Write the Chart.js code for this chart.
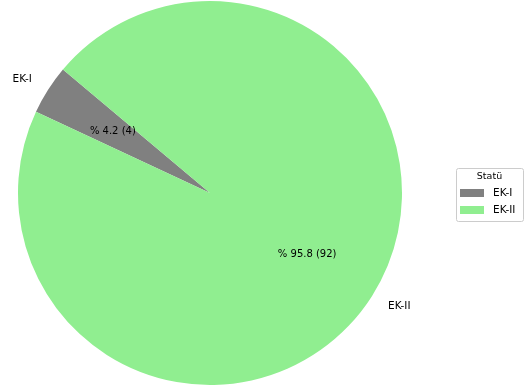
<!DOCTYPE html>
<html>
<head>
<meta charset="utf-8">
<script src="https://cdn.jsdelivr.net/npm/chart.js@4"></script>
<style>
html,body{margin:0;padding:0;background:#fff;}
#wrap{position:relative;width:528px;height:392px;}
</style>
</head>
<body>
<div id="wrap"><canvas id="c" width="528" height="392"></canvas></div>
<script>
const categories = ["EK-I", "EK-II"];
const counts = [4, 92];
const colors = ["#808080", "#90ee90"];
const legendTitle = "Statü";

const total = counts.reduce((a, b) => a + b, 0);
const FONT = "'DejaVu Sans', sans-serif";

const labelPlugin = {
  id: 'pieLabels',
  afterDatasetsDraw(chart) {
    const ctx = chart.ctx;
    const meta = chart.getDatasetMeta(0);
    ctx.save();
    meta.data.forEach((arc, i) => {
      const mid = (arc.startAngle + arc.endAngle) / 2;
      const r = arc.outerRadius;
      const cx = Math.cos(mid), cy = Math.sin(mid);
      const pct = (counts[i] / total * 100).toFixed(1);
      ctx.fillStyle = '#000';
      ctx.font = '10px ' + FONT;
      ctx.textAlign = 'center';
      ctx.textBaseline = 'middle';
      ctx.fillText('% ' + pct + ' (' + counts[i] + ')', arc.x + cx * r * 0.6, arc.y + cy * r * 0.6);
      ctx.font = '10.5px ' + FONT;
      ctx.textAlign = cx > 0 ? 'left' : 'right';
      ctx.fillText(categories[i], arc.x + cx * r * 1.1, arc.y + cy * r * 1.1);
    });
    const bx = 456, by = 168, bw = 67, bh = 53;
    ctx.fillStyle = '#fff';
    ctx.strokeStyle = '#cccccc';
    ctx.lineWidth = 1;
    ctx.beginPath();
    ctx.roundRect(bx + 0.5, by + 0.5, bw, bh, 2);
    ctx.fill();
    ctx.stroke();
    ctx.fillStyle = '#000';
    ctx.font = '9.5px ' + FONT;
    ctx.textAlign = 'center';
    ctx.textBaseline = 'middle';
    ctx.fillText(legendTitle, bx + bw / 2, by + 9);
    categories.forEach((c, i) => {
      const y = by + 25 + i * 17;
      ctx.fillStyle = colors[i];
      ctx.fillRect(bx + 4, y - 4, 24, 8);
      ctx.fillStyle = '#000';
      ctx.font = '10.5px ' + FONT;
      ctx.textAlign = 'left';
      ctx.fillText(c, bx + 37, y);
    });
    ctx.restore();
  }
};

new Chart(document.getElementById('c'), {
  type: 'pie',
  data: {
    labels: categories,
    datasets: [{
      data: counts,
      backgroundColor: colors,
      borderWidth: 0,
      hoverOffset: 0
    }]
  },
  options: {
    responsive: false,
    animation: false,
    rotation: -65,
    layout: { padding: { left: 18, right: 126, top: 1, bottom: 7 } },
    plugins: {
      legend: { display: false },
      tooltip: { enabled: false }
    },
    events: []
  },
  plugins: [labelPlugin]
});
</script>
</body>
</html>
